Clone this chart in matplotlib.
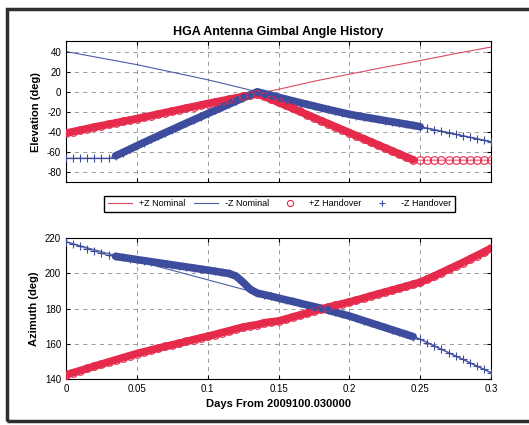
import matplotlib
matplotlib.use("Agg")
import matplotlib.pyplot as plt
import numpy as np
from matplotlib.patches import Rectangle

plt.rcParams["font.family"] = ["Liberation Sans", "DejaVu Sans"]
plt.rcParams["axes.unicode_minus"] = False

# handover samples every 0.005 days
HO_DAYS = np.round(np.arange(61) * 0.005, 3)

ELEV_PZ_HO = [
    -41.0, -39.5, -38.0, -36.5, -35.0, -33.6, -32.2, -30.8, -29.4, -28.0,
    -26.6, -25.1, -23.6, -22.1, -20.6, -19.1, -17.6, -16.1, -14.6, -13.1,
    -11.6, -10.2, -8.8, -7.4, -6.0, -4.6, -3.3, -2.0, -4.5, -7.5,
    -10.5, -13.5, -16.5, -19.5, -22.5, -25.5, -28.5, -31.5, -34.5, -37.5,
    -40.5, -43.5, -46.5, -49.5, -52.5, -55.5, -58.5, -61.5, -64.5, -67.5,
    -68.0, -68.0, -68.0, -68.0, -68.0, -68.0, -68.0, -68.0, -68.0, -68.0,
    -68.0,
]
ELEV_MZ_HO = [
    -66.0, -66.0, -66.0, -66.0, -66.0, -66.0, -66.0, -63.5, -60.3, -57.0,
    -53.6, -50.3, -47.0, -43.8, -40.6, -37.4, -34.2, -31.0, -27.9, -24.8,
    -21.6, -18.5, -15.4, -12.3, -9.2, -6.1, -3.0, 0.0, -1.8, -3.6,
    -5.4, -7.2, -9.0, -10.7, -12.4, -14.1, -15.8, -17.5, -19.1, -20.7,
    -22.3, -23.6, -24.9, -26.1, -27.3, -28.5, -29.7, -30.9, -32.1, -33.3,
    -34.6, -36.1, -37.6, -39.1, -40.6, -42.1, -43.6, -45.1, -46.6, -48.1,
    -49.6,
]
AZ_PZ_HO = [
    142.4, 143.6, 144.8, 146.0, 147.3, 148.5, 149.7, 150.9, 152.1, 153.3,
    154.5, 155.5, 156.5, 157.5, 158.5, 159.4, 160.4, 161.4, 162.4, 163.4,
    164.3, 165.3, 166.4, 167.4, 168.5, 169.5, 170.3, 170.9, 172.0, 172.5,
    173.0, 174.1, 175.3, 176.4, 177.5, 178.7, 179.8, 180.8, 181.8, 182.8,
    183.8, 184.9, 186.0, 187.2, 188.3, 189.4, 190.5, 191.6, 192.7, 193.9,
    195.0, 196.8, 198.6, 200.5, 202.4, 204.3, 206.2, 208.2, 210.2, 212.2,
    214.3,
]
AZ_MZ_HO = [
    218.0, 216.7, 215.4, 214.1, 212.8, 211.6, 210.3, 209.7, 209.1, 208.5,
    207.9, 207.3, 206.7, 206.1, 205.5, 204.9, 204.3, 203.7, 203.1, 202.5,
    201.9, 201.3, 200.6, 200.0, 198.5, 195.0, 191.0, 188.8, 187.9, 187.0,
    186.0, 185.0, 184.1, 183.1, 182.1, 181.2, 180.2, 179.1, 178.0, 176.9,
    175.8, 174.5, 173.2, 171.9, 170.6, 169.3, 168.0, 166.7, 165.4, 164.1,
    162.6, 160.7, 158.8, 156.9, 155.0, 153.1, 151.2, 149.3, 147.4, 145.5,
    143.6,
]

# nominal profiles
NOM_DAYS = [0, 0.025, 0.05, 0.075, 0.1, 0.125, 0.135, 0.15, 0.175, 0.2,
            0.225, 0.25, 0.275, 0.3]
ELEV_PZ_NOM = [-41.0, -33.6, -26.6, -19.1, -11.6, -4.6, -1.5, 2.5, 10.5, 17.5,
               24.5, 31.0, 38.0, 44.5]
ELEV_MZ_NOM = [40.0, 33.5, 27.0, 19.5, 12.0, 3.5, 0.0, -5.4, -14.1, -22.3,
               -28.5, -34.6, -42.1, -49.6]
AZ_PZ_NOM = [142.4, 148.5, 154.5, 159.4, 164.3, 169.5, 170.9, 173.0, 178.7, 183.8,
             189.4, 195.0, 204.3, 214.3]
AZ_MZ_NOM = [218.0, 212.4, 207.2, 201.8, 196.4, 191.0, 188.8, 186.0, 181.2, 175.8,
             169.3, 162.6, 153.1, 143.6]

X_TICKS = [0, 0.05, 0.1, 0.15, 0.2, 0.25, 0.3]
X_TICK_LABELS = ["0", "0.05", "0.1", "0.15", "0.2", "0.25", "0.3"]
ELEV_TICKS = [-80, -60, -40, -20, 0, 20, 40]
AZ_TICKS = [140, 160, 180, 200, 220]

RED = "#e62a4c"
BLUE = "#3e4c9e"
RED_THIN = "#dc4a62"
BLUE_THIN = "#4d5ca8"


def plot_handover(ax, vals, color, marker, span, label):
    days = HO_DAYS
    vals = np.asarray(vals)
    inside = (days >= span[0]) & (days <= span[1])
    ax.plot(days, vals, color=color, lw=1.2, alpha=0.6, zorder=3)
    ax.plot(days[inside], vals[inside], color=color, lw=5.5,
            solid_capstyle="round", zorder=3)
    ax.plot(days, vals, ls="none", marker=marker, ms=5.5, mfc="none",
            mec=color, mew=0.8, label=label, zorder=4)


def style_axes(ax):
    ax.set_xlim(0, 0.3)
    ax.set_xticks(X_TICKS)
    ax.grid(True, color="#8a8a8a", ls=(0, (5, 5)), lw=0.6)
    ax.tick_params(direction="in", length=3, labelsize=7, top=True, right=True)
    for s in ax.spines.values():
        s.set_linewidth(0.8)


fig = plt.figure(figsize=(5.29, 4.25), dpi=100)

ax1 = fig.add_axes([0.1248, 0.5706, 0.8034, 0.3318])
ax1.plot(NOM_DAYS, ELEV_PZ_NOM, color=RED_THIN, lw=0.8, label="+Z Nominal", zorder=2)
ax1.plot(NOM_DAYS, ELEV_MZ_NOM, color=BLUE_THIN, lw=0.8, label="-Z Nominal", zorder=2)
plot_handover(ax1, ELEV_PZ_HO, RED, "o", (0, 0.2475), "+Z Handover")
plot_handover(ax1, ELEV_MZ_HO, BLUE, "+", (0.031, 0.25), "-Z Handover")
style_axes(ax1)
ax1.set_ylim(-90, 50)
ax1.set_yticks(ELEV_TICKS)
ax1.set_xticklabels([])
ax1.set_ylabel("Elevation (deg)", fontsize=8, fontweight="bold")
ax1.set_title("HGA Antenna Gimbal Angle History", fontsize=9,
              fontweight="bold", pad=5)

ax2 = fig.add_axes([0.1248, 0.1082, 0.8034, 0.3311])
ax2.plot(NOM_DAYS, AZ_PZ_NOM, color=RED_THIN, lw=0.8, zorder=2)
ax2.plot(NOM_DAYS, AZ_MZ_NOM, color=BLUE_THIN, lw=0.8, zorder=2)
plot_handover(ax2, AZ_PZ_HO, RED, "o", (0, 0.3), None)
plot_handover(ax2, AZ_MZ_HO, BLUE, "+", (0.031, 0.245), None)
style_axes(ax2)
ax2.set_ylim(140, 220)
ax2.set_yticks(AZ_TICKS)
ax2.set_xticklabels(X_TICK_LABELS)
ax2.set_ylabel("Azimuth (deg)", fontsize=8, fontweight="bold")
ax2.set_xlabel("Days From 2009100.030000", fontsize=8, fontweight="bold")

handles, labels = ax1.get_legend_handles_labels()
fig.legend(handles, labels, loc="center", bbox_to_anchor=(0.528, 0.52),
           ncol=4, fontsize=6.5, frameon=True, fancybox=False,
           edgecolor="black", handlelength=2.7, handletextpad=0.8,
           columnspacing=0.9, borderpad=0.4, framealpha=1, markerscale=0.8)

# scanned figure border
fig.patches.append(Rectangle((0.013, 0.009), 1.05, 0.971, transform=fig.transFigure,
                             fill=False, edgecolor="#2e2e2e", lw=2.5))

fig.savefig("out.png", dpi=100)
